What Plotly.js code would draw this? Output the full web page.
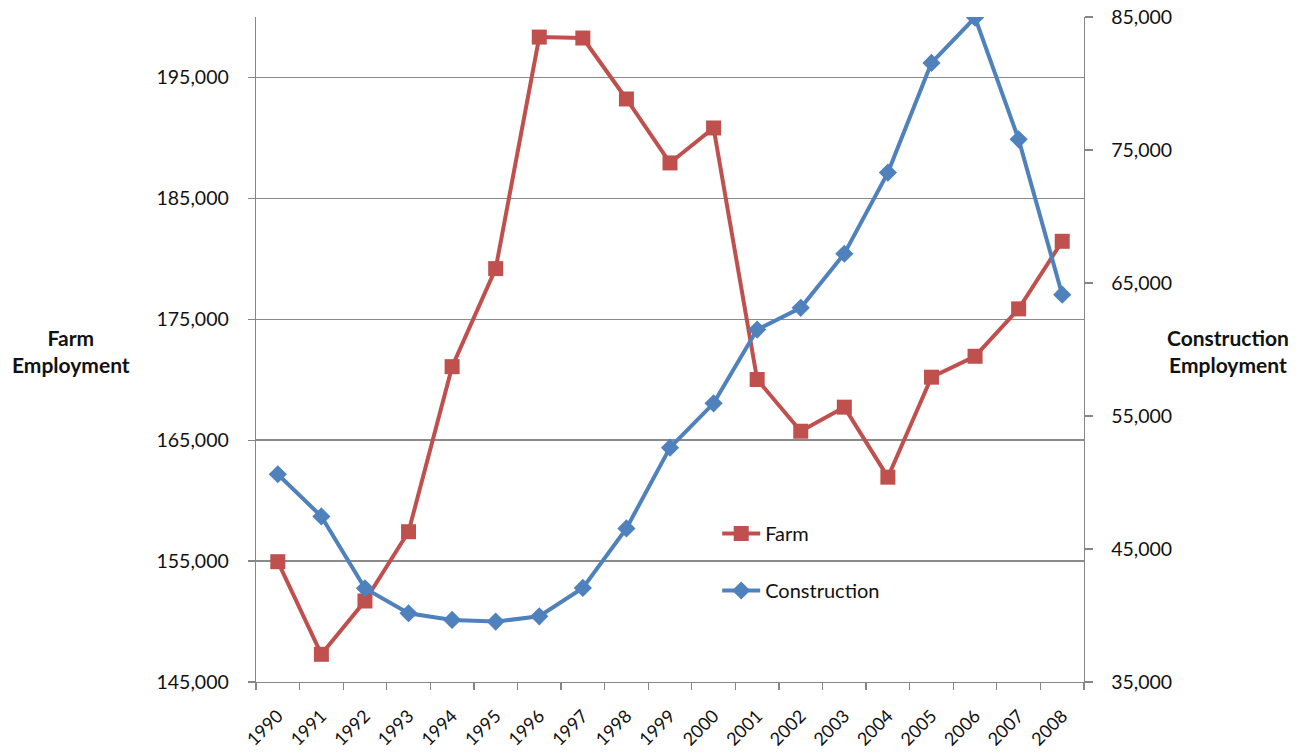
<!DOCTYPE html>
<html>
<head>
<meta charset="utf-8">
<script src="https://cdn.plot.ly/plotly-3.0.1.min.js"></script>
<style>html,body{margin:0;padding:0;background:#fff;}#chart{width:1302px;height:753px;}</style>
</head>
<body>
<div id="chart"></div>
<script>
var years = ["1990","1991","1992","1993","1994","1995","1996","1997","1998","1999","2000","2001","2002","2003","2004","2005","2006","2007","2008"];
var farm = [154950,147290,151700,157430,171080,179190,198340,198260,193220,187930,190820,170020,165740,167730,161940,170210,171940,175860,181450];
var construction = [50620,47450,42040,40170,39670,39540,39940,42070,46550,52620,55950,61500,63130,67200,73300,81550,84960,75800,64120];
var farmTicks = [145000,155000,165000,175000,185000,195000];
var constTicks = [35000,45000,55000,65000,75000,85000];

var FONT = "Lato, 'Open Sans', sans-serif";
var traces = [
  {x: years, y: farm, name: "Farm", type: "scatter", mode: "lines+markers", legendgroup: "a",
   line: {color: "#C0504D", width: 4}, marker: {symbol: "square", size: 15, color: "#C0504D"}, yaxis: "y"},
  {x: years, y: construction, name: "Construction", type: "scatter", mode: "lines+markers", legendgroup: "b",
   line: {color: "#4F81BD", width: 4}, marker: {symbol: "diamond", size: 14, color: "#4F81BD"}, yaxis: "y2"}
];
var layout = {
  width: 1302, height: 753,
  margin: {l: 256, r: 218, t: 17, b: 71},
  paper_bgcolor: "#fff", plot_bgcolor: "#fff",
  font: {family: FONT, color: "#111", size: 18},
  showlegend: true,
  legend: {x: 0.557, y: 0.2526, xanchor: "left", yanchor: "top", bgcolor: "rgba(0,0,0,0)", itemwidth: 38,
           font: {family: FONT, size: 20, color: "#111"}, tracegroupgap: 28},
  xaxis: {type: "category", range: [-0.5, 18.5], tickson: "boundaries", ticks: "outside", ticklen: 7,
          tickcolor: "#868686", tickwidth: 1.3, showline: true, linecolor: "#868686", linewidth: 1.3,
          showgrid: false, tickangle: -45, ticklabelstandoff: 15, tickfont: {family: FONT, size: 18, color: "#111"}, zeroline: false},
  yaxis: {range: [145000, 200000], tickvals: farmTicks, ticktext: farmTicks.map(function(v){return v.toLocaleString("en-US");}),
          ticks: "outside", ticklen: 7, tickcolor: "#868686", tickwidth: 1.3,
          showline: true, linecolor: "#868686", linewidth: 1.3, showgrid: true, gridcolor: "#8a8a8a", gridwidth: 1.4,
          zeroline: false, ticklabelstandoff: 15, tickfont: {family: FONT, size: 19.5, color: "#111"}},
  yaxis2: {range: [35000, 85000], tickvals: constTicks, ticktext: constTicks.map(function(v){return v.toLocaleString("en-US");}),
           overlaying: "y", side: "right", ticks: "outside", ticklen: 8, tickcolor: "#868686", tickwidth: 1.3,
           showline: true, linecolor: "#868686", linewidth: 1.3, showgrid: false, zeroline: false,
           ticklabelstandoff: 14, tickfont: {family: FONT, size: 19.5, color: "#111"}},
  annotations: [
    {text: "<b>Farm<br>Employment</b>", xref: "paper", yref: "paper", x: -0.2234, y: 0.497, showarrow: false,
     xanchor: "center", yanchor: "middle", align: "center", font: {family: FONT, size: 21, color: "#111"}},
    {text: "<b>Construction<br>Employment</b>", xref: "paper", yref: "paper", x: 1.174, y: 0.497, showarrow: false,
     xanchor: "center", yanchor: "middle", align: "center", font: {family: FONT, size: 21, color: "#111"}}
  ]
};
Plotly.newPlot("chart", traces, layout, {displayModeBar: false, staticPlot: true});
</script>
</body>
</html>
